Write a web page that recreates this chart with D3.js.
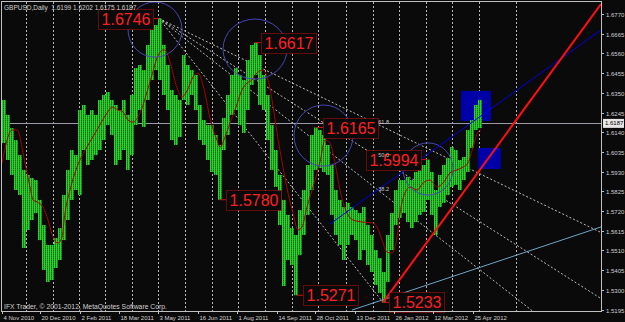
<!DOCTYPE html>
<html><head><meta charset="utf-8">
<script src="https://cdn.jsdelivr.net/npm/d3@7"></script>
<style>html,body{margin:0;padding:0;background:#000;}svg{display:block;}</style>
</head><body><svg id="c" width="625" height="322"></svg>
<script>
// ---------------- data ----------------
const chartTitle = "GBPUSD,Daily  1.6199 1.6202 1.6175 1.6187";
const copyrightText = "IFX Trader, \u00a9 2001-2012, MetaQuotes Software Corp.";
const lastPrice = 1.6187;
const barsPerSample = 4;
// high / low of each group of daily bars (starting 4 Nov 2010)
const sampleHigh = [
 1.6312,1.6232,1.6162,1.6098,1.6018,1.5939,1.5912,1.5896,1.5885,1.5779,
 1.5645,1.5539,1.5539,1.5576,1.5629,1.5805,1.5939,1.6045,1.6018,1.6258,
 1.6285,1.6232,1.6258,1.6232,1.6312,1.6338,1.6354,1.6312,1.6285,1.6258,
 1.6312,1.6232,1.6338,1.6482,1.6498,1.6471,1.6605,1.6685,1.6711,1.6746,
 1.6605,1.6498,1.6365,1.6338,1.6312,1.6551,1.6498,1.6471,1.6445,1.6285,
 1.6205,1.6178,1.6178,1.6125,1.6072,1.6216,1.6338,1.6445,1.6482,1.6445,
 1.6418,1.6525,1.6605,1.6617,1.6551,1.6445,1.6338,1.6178,1.6045,1.5912,
 1.5779,1.5699,1.5629,1.5592,1.5725,1.5832,1.5965,1.6125,1.6165,1.6152,
 1.6125,1.6072,1.5965,1.5832,1.5779,1.5741,1.5763,1.5741,1.5725,1.5709,
 1.5741,1.5645,1.5592,1.5512,1.5469,1.5395,1.5592,1.5709,1.5832,1.5885,
 1.5885,1.5901,1.5885,1.5928,1.5949,1.5965,1.5994,1.5928,1.5832,1.5912,
 1.5965,1.6002,1.6061,1.6045,1.5992,1.6008,1.6152,1.6205,1.6285,1.6312];
const sampleLow = [
 1.6082,1.5992,1.5912,1.5832,1.5805,1.5523,1.5619,1.5672,1.5709,1.5565,
 1.5406,1.5342,1.5352,1.5416,1.5459,1.5565,1.5672,1.5779,1.5832,1.5805,
 1.6045,1.5965,1.5992,1.6018,1.6045,1.6098,1.6178,1.6125,1.5965,1.5992,
 1.6045,1.5939,1.6018,1.6178,1.6258,1.6168,1.6312,1.6418,1.6471,1.6418,
 1.6338,1.6258,1.6098,1.6072,1.6114,1.6312,1.6285,1.6338,1.6258,1.6098,
 1.6072,1.5992,1.5928,1.5912,1.5780,1.6045,1.6125,1.6232,1.6258,1.6178,
 1.6136,1.6258,1.6392,1.6445,1.6285,1.6258,1.6098,1.5939,1.5848,1.5645,
 1.5320,1.5459,1.5432,1.5271,1.5485,1.5592,1.5699,1.5832,1.5939,1.5949,
 1.5928,1.5912,1.5699,1.5592,1.5539,1.5459,1.5539,1.5592,1.5565,1.5459,
 1.5512,1.5432,1.5395,1.5326,1.5283,1.5233,1.5342,1.5512,1.5645,1.5683,
 1.5709,1.5661,1.5629,1.5661,1.5699,1.5715,1.5779,1.5699,1.5592,1.5741,
 1.5763,1.5805,1.5848,1.5859,1.5832,1.5885,1.5928,1.6056,1.6152,1.6162];
// moving average (bar index, value)
const maBars = [0,10,15,23,28,31,35,41,46,51,56,60,63,68,75,85,95,105,110,116,121,126,131,138,145,150,155,161,163,168,175,180,185,191,196,201,208,215,218,223,228,233,240,245,250,255,261,266,270,275,281,286,291,296,300,305,311,318,323,328,333,338,345,351,361,371,375,380,385,390,395,398,403,408,415,421,428,435,441,448,455,461,466,471,476,479];
const maValues = [1.5976,1.6152,1.6152,1.5976,1.5848,1.5779,1.5768,1.5741,1.5672,1.5581,1.5549,1.5581,1.5709,1.5832,1.5954,1.6061,1.6152,1.6242,1.6274,1.6258,1.6248,1.6205,1.6194,1.6242,1.6354,1.6445,1.6535,1.6578,1.6578,1.6514,1.6376,1.6328,1.6360,1.6434,1.6456,1.6392,1.6216,1.6098,1.6061,1.6114,1.6189,1.6258,1.6365,1.6402,1.6418,1.6456,1.6471,1.6418,1.6312,1.6136,1.5954,1.5816,1.5709,1.5619,1.5635,1.5741,1.5848,1.5981,1.6098,1.6082,1.5976,1.5832,1.5709,1.5672,1.5661,1.5656,1.5635,1.5565,1.5501,1.5496,1.5581,1.5709,1.5816,1.5848,1.5832,1.5869,1.5885,1.5848,1.5869,1.5923,1.5939,1.5954,1.5976,1.6061,1.6141,1.6152];
const dateLabels = ["4 Nov 2010","20 Dec 2010","2 Feb 2011","18 Mar 2011","3 May 2011","16 Jun 2011","1 Aug 2011","14 Sep 2011","28 Oct 2011","13 Dec 2011","26 Jan 2012","12 Mar 2012","25 Apr 2012"];
const dateLabelBars = [0,38,78,117,156,196,235,275,313,353,392,431,471];
const gridBars = [24,51,77,103,130,156,183,210,236,263,290,316,344,371,397,424,450,477,514];
const priceTicks = [1.6770,1.6665,1.6560,1.6455,1.6350,1.6245,1.6140,1.6035,1.5930,1.5825,1.5720,1.5615,1.5510,1.5405,1.5300,1.5195];
// annotations
const pivotLabels = [
  {text:"1.6746", bar:157, price:1.6746, side:"left"},
  {text:"1.6617", bar:253, price:1.6617, side:"right"},
  {text:"1.6165", bar:315, price:1.6165, side:"right"},
  {text:"1.5994", bar:425, price:1.5994, side:"left"},
  {text:"1.5780", bar:218, price:1.5780, side:"right"},
  {text:"1.5271", bar:295, price:1.5271, side:"right"},
  {text:"1.5233", bar:381, price:1.5233, side:"right"}];
const ellipses = [
  {bar:153, price:1.6687, rBars:27, rPrice:0.0147},
  {bar:253, price:1.6583, rBars:32, rPrice:0.0160},
  {bar:321.5, price:1.6122, rBars:29.5, rPrice:0.0163},
  {bar:426, price:1.5944, rBars:25, rPrice:0.0139}];
const boxes = [
  {bar0:459, bar1:489, p0:1.6360, p1:1.6200},
  {bar0:476, bar1:499, p0:1.6056, p1:1.5944}];
const fanFrom = {bar:157, price:1.6746};
const fanTo = {bar:381, price:1.5233};
const fanLevels = [0.382, 0.5, 0.618];
const redTrend = [{bar:381, price:1.5233},{bar:599, price:1.6823}];
const blueTrend = [{bar:328, price:1.5651},{bar:599, price:1.6685}];
const steelTrend = [{bar:350, price:1.5192},{bar:599, price:1.5635}];

// ---------------- drawing ----------------
const W = 625, H = 322;
const P = {l:2, r:601, t:2, b:311};
const svg = d3.select("#c");
const x = d3.scaleLinear().domain([0, 599]).range([2, 601]);
const y = d3.scaleLinear().domain([1.5195, 1.6770]).range([309.5, 14]);
const FONT = "'Liberation Sans', Arial, sans-serif";

svg.append("rect").attr("width", W).attr("height", H).attr("fill", "#0a0a0a");
const defs = svg.append("defs");
defs.append("clipPath").attr("id","plot").append("rect")
  .attr("x",P.l).attr("y",P.t).attr("width",P.r-P.l).attr("height",P.b-P.t);
const pat = defs.append("pattern").attr("id","barpat").attr("width",2).attr("height",2)
  .attr("patternUnits","userSpaceOnUse");
pat.append("rect").attr("width",2).attr("height",2).attr("fill","#32cf32");
pat.append("rect").attr("x",1).attr("y",0).attr("width",1).attr("height",1).attr("fill","#127212");
pat.append("rect").attr("x",1).attr("y",1).attr("width",1).attr("height",1).attr("fill","#1c9a1c");

const g = svg.append("g").attr("clip-path","url(#plot)");

// vertical grid
g.selectAll("line.grid").data(gridBars).join("line")
  .attr("x1", d => Math.round(x(d))+0.5).attr("x2", d => Math.round(x(d))+0.5)
  .attr("y1", P.t).attr("y2", P.b)
  .attr("stroke","#b8b8b8").attr("stroke-dasharray","2,2").attr("stroke-width",1);

// blue boxes
g.selectAll("rect.box").data(boxes).join("rect")
  .attr("x", d => x(d.bar0)).attr("width", d => x(d.bar1)-x(d.bar0))
  .attr("y", d => y(d.p0)).attr("height", d => y(d.p1)-y(d.p0))
  .attr("fill","#0000a8");

// bid line
g.append("line").attr("x1",P.l).attr("x2",P.r)
  .attr("y1", Math.round(y(lastPrice))+0.5).attr("y2", Math.round(y(lastPrice))+0.5)
  .attr("stroke","#9a9aa8").attr("stroke-width",1);

// fibonacci fan lines
const fx1 = x(fanFrom.bar), fy1 = y(fanFrom.price), fx2 = x(fanTo.bar), fy2 = y(fanTo.price);
g.append("line").attr("x1",fx1).attr("y1",fy1).attr("x2",fx2).attr("y2",fy2)
  .attr("stroke","#bdbdbd").attr("stroke-dasharray","2,2");
const fanLabelPos = [];
fanLevels.forEach(r => {
  const ty = fy2 + (fy1 - fy2) * r;
  const slope = (ty - fy1) / (fx2 - fx1);
  const xe = P.r, ye = fy1 + slope * (xe - fx1);
  g.append("line").attr("x1",fx1).attr("y1",fy1).attr("x2",xe).attr("y2",ye)
    .attr("stroke","#bdbdbd").attr("stroke-dasharray","2,2");
  fanLabelPos.push({r, ty});
});

// price bars
const samples = sampleHigh.map((h,i) => ({i, h, l: sampleLow[i]}));
g.selectAll("rect.bar").data(samples).join("rect")
  .attr("x", d => x(d.i*barsPerSample)).attr("width", x(barsPerSample)-x(0))
  .attr("y", d => y(d.h)).attr("height", d => Math.max(1, y(d.l)-y(d.h)))
  .attr("fill","url(#barpat)");

// moving average
const ma = maBars.map((b,i) => [b, maValues[i]]);
g.append("path").datum(ma)
  .attr("d", d3.line().x(d => x(d[0])).y(d => y(d[1])).curve(d3.curveMonotoneX))
  .attr("fill","none").attr("stroke","#a80000").attr("stroke-width",1);

// ellipses
g.selectAll("ellipse").data(ellipses).join("ellipse")
  .attr("cx", d => x(d.bar)).attr("cy", d => y(d.price))
  .attr("rx", d => x(d.rBars)-x(0)).attr("ry", d => y(0) - y(d.rPrice))
  .attr("fill","none").attr("stroke","#4646b4").attr("stroke-width",1);

// trend lines
function trend(pts, color, w) {
  g.append("line").attr("x1",x(pts[0].bar)).attr("y1",y(pts[0].price))
    .attr("x2",x(pts[1].bar)).attr("y2",y(pts[1].price))
    .attr("stroke",color).attr("stroke-width",w);
}
trend(steelTrend, "#6fa3c4", 1);
trend(blueTrend, "#0000e6", 1);
trend(redTrend, "#ff1010", 2);

// pivot labels
const boxW = 55, boxH = 20;
pivotLabels.forEach(d => {
  const px = x(d.bar), py = y(d.price);
  const bx = d.side === "left" ? px - 6 - boxW : px + 6;
  const cx = d.side === "left" ? bx + boxW : bx;
  svg.append("line").attr("x1",px).attr("x2",cx).attr("y1",py).attr("y2",py)
    .attr("stroke","#d01010");
  svg.append("rect").attr("x",bx+0.5).attr("y",Math.round(py - boxH/2)+0.5)
    .attr("width",boxW).attr("height",boxH)
    .attr("fill","#0a0a0a").attr("stroke","#c01010").attr("stroke-dasharray","1,1");
  svg.append("text").attr("x",bx + boxW/2 + 0.5).attr("y",py + 6)
    .attr("text-anchor","middle").attr("font-family",FONT).attr("font-size",16)
    .attr("fill","#ff2020").text(d.text);
});

// fan level labels (drawn on top, as in the reference)
fanLabelPos.forEach(d => {
  svg.append("text").attr("x", fx2 + 6).attr("y", d.ty - 3)
    .attr("text-anchor","end").attr("font-family",FONT).attr("font-size",5.5)
    .attr("fill","#c8c8c8").text((d.r*100).toFixed(1));
});

// frame
svg.append("rect").attr("x",P.l-0.5).attr("y",P.t-0.5).attr("width",P.r-P.l+1).attr("height",P.b-P.t+1)
  .attr("fill","none").attr("stroke","#c0c0c0");

// right price axis
priceTicks.forEach(v => {
  const yy = Math.round(y(v)) + 0.5;
  svg.append("line").attr("x1",P.r).attr("x2",P.r+3).attr("y1",yy).attr("y2",yy).attr("stroke","#c0c0c0");
  svg.append("text").attr("x",P.r+5).attr("y",yy+2).attr("font-family",FONT).attr("font-size",6)
    .attr("fill","#d0d0d0").text(v.toFixed(4));
});
const ly = y(lastPrice);
svg.append("rect").attr("x",P.r+2).attr("y",ly-4.5).attr("width",21).attr("height",9).attr("fill","#e6e6e6");
svg.append("text").attr("x",P.r+4).attr("y",ly+2).attr("font-family",FONT).attr("font-size",6)
  .attr("fill","#000").text(lastPrice.toFixed(4));

// bottom time axis
dateLabelBars.forEach((b,i) => {
  const xx = Math.round(x(b)) + 0.5;
  svg.append("line").attr("x1",xx).attr("x2",xx).attr("y1",P.b).attr("y2",P.b+3).attr("stroke","#c0c0c0");
  svg.append("text").attr("x",xx+1).attr("y",320).attr("font-family",FONT).attr("font-size",6)
    .attr("fill","#d0d0d0").text(dateLabels[i]);
});

// texts
svg.append("text").attr("x",4).attr("y",10).attr("font-family",FONT).attr("font-size",6.5)
  .attr("fill","#d0d0d0").attr("xml:space","preserve").text(chartTitle);
svg.append("text").attr("x",4).attr("y",309).attr("font-family",FONT).attr("font-size",6.8)
  .attr("fill","#d0d0d0").text(copyrightText);
</script></body></html>
